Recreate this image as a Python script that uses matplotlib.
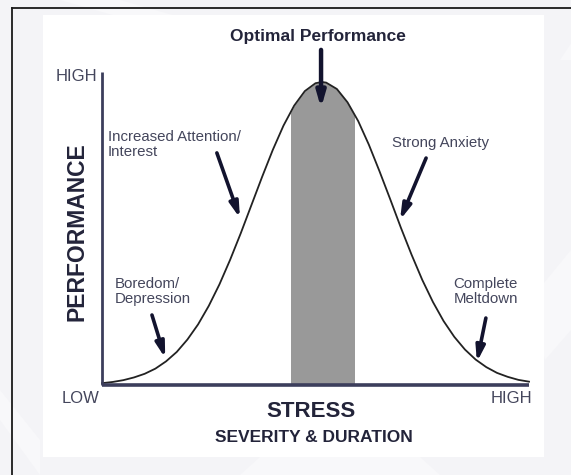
import matplotlib
matplotlib.use("Agg")
import matplotlib.pyplot as plt
from matplotlib.patches import Rectangle, Polygon
from matplotlib.lines import Line2D

# stress level (0 = LOW, 10 = HIGH) and performance (0 = LOW, 10 = peak)
stress = [0, 0.25, 0.5, 0.75, 1.0, 1.25, 1.5, 1.75, 2.0, 2.25, 2.5, 2.75, 3.0, 3.25,
          3.5, 3.75, 4.0, 4.25, 4.5, 4.75, 5.0, 5.15, 5.25, 5.5, 5.75, 6.0, 6.25, 6.5,
          6.75, 7.0, 7.25, 7.5, 7.75, 8.0, 8.25, 8.5, 8.75, 9.0, 9.25, 9.5, 9.75, 10.0]
performance = [0.06, 0.10, 0.16, 0.25, 0.37, 0.54, 0.78, 1.09, 1.50, 2.00, 2.61, 3.32,
               4.13, 5.01, 5.94, 6.87, 7.76, 8.56, 9.22, 9.70, 9.96, 10.0, 9.98, 9.77,
               9.33, 8.71, 7.93, 7.05, 6.13, 5.19, 4.30, 3.47, 2.74, 2.11, 1.59, 1.17,
               0.84, 0.59, 0.40, 0.27, 0.17, 0.11]

optimal_zone = [4.43, 5.90]

title = "Optimal Performance"
x_label = "STRESS"
x_sublabel = "SEVERITY & DURATION"
y_label = "PERFORMANCE"
low_label = "LOW"
high_label = "HIGH"
stage_labels = ["Boredom/\nDepression", "Increased Attention/\nInterest",
                "Strong Anxiety", "Complete\nMeltdown"]

W, H = 571, 475
plt.rcParams["font.family"] = ["Liberation Sans", "DejaVu Sans"]

fig = plt.figure(figsize=(W / 100, H / 100), dpi=100, facecolor="#f4f4f7")


def fx(px):
    return px / W


def fy(py):
    return 1 - py / H


# faint background shapes
for pts in [[(60, 0), (120, 0), (330, 60), (270, 60)],
            [(600, 0), (860, 0), (820, 60), (560, 60)],
            [(0, 390), (40, 440), (40, 475), (0, 420)],
            [(530, 300), (571, 250), (571, 330), (545, 360)],
            [(260, 457), (420, 457), (440, 475), (240, 475)]]:
    fig.patches.append(Polygon([(fx(x), fy(y)) for x, y in pts], closed=True,
                               transform=fig.transFigure, facecolor="#f8f8fa",
                               edgecolor="none", zorder=-3))

# white panel and frame
fig.patches.append(Rectangle((fx(43), fy(457)), fx(544) - fx(43), fy(15) - fy(457),
                             transform=fig.transFigure, facecolor="white",
                             edgecolor="none", zorder=-2))
fig.lines.append(Line2D([fx(12), 1], [fy(8), fy(8)], transform=fig.transFigure,
                        color="#1a1a1a", lw=1.3))
fig.lines.append(Line2D([fx(12), fx(12)], [0, fy(8)], transform=fig.transFigure,
                        color="#1a1a1a", lw=1.3))

# axes: x 0..10 -> px 102..529, y 0..10 -> px 385..82
ax = fig.add_axes([fx(102), fy(385), fx(529) - fx(102), fy(82) - fy(385)])
ax.set_xlim(0, 10)
ax.set_ylim(0, 10)
ax.axis("off")
ax.set_facecolor("none")

axis_c = "#3c3e5c"
text_c = "#44465c"
bold_c = "#23243a"
arrow_c = "#12132e"

# grey optimal zone under the curve
band = ax.fill_between(stress, performance, 0, color="#999999", lw=0, zorder=1)
band.set_clip_path(Rectangle((optimal_zone[0], 0), optimal_zone[1] - optimal_zone[0], 11,
                             transform=ax.transData))

ax.plot(stress, performance, color="#222222", lw=1.3, zorder=3, clip_on=False)

# axis lines
ax.plot([0, 0], [0, 10.33], color=axis_c, lw=2.0, clip_on=False, zorder=4,
        solid_capstyle="butt")
ax.plot([0, 10], [0, 0], color=axis_c, lw=2.6, clip_on=False, zorder=4,
        solid_capstyle="butt")

# labels
ax.text(5.06, 11.49, title, ha="center", va="center", fontsize=12.5, fontweight="bold",
        color=bold_c)
ax.text(-0.12, 10.17, high_label, ha="right", va="center", fontsize=12, color=text_c)
ax.text(-0.05, -0.43, low_label, ha="right", va="center", fontsize=12, color=text_c)
ax.text(10.07, -0.43, high_label, ha="right", va="center", fontsize=12, color=text_c)
ax.text(4.89, -0.89, x_label, ha="center", va="center", fontsize=16, fontweight="bold",
        color=bold_c)
ax.text(4.96, -1.72, x_sublabel, ha="center", va="center", fontsize=12.5,
        fontweight="bold", color=bold_c)
ax.text(-0.585, 5.05, y_label, ha="center", va="center", rotation=90, fontsize=16.5,
        fontweight="bold", color=bold_c)

ax.text(0.30, 3.55, stage_labels[0], ha="left", va="top", fontsize=10.8, color=text_c,
        linespacing=1.05)
ax.text(0.14, 8.40, stage_labels[1], ha="left", va="top", fontsize=10.8, color=text_c,
        linespacing=1.05)
ax.text(7.92, 7.99, stage_labels[2], ha="center", va="center", fontsize=10.8, color=text_c)
ax.text(8.99, 3.55, stage_labels[3], ha="center", va="top", fontsize=10.8, color=text_c,
        linespacing=1.05, multialignment="center")

# arrows (start, tip)
arrows = [((5.13, 11.06), (5.13, 9.14), 3.2),
          ((1.17, 2.31), (1.48, 0.89), 2.6),
          ((2.69, 7.66), (3.23, 5.51), 2.6),
          ((7.59, 7.49), (6.98, 5.45), 2.6),
          ((8.99, 2.21), (8.78, 0.76), 2.6)]
for start, tip, lw in arrows:
    ax.annotate("", xy=tip, xytext=start, annotation_clip=False,
                arrowprops=dict(arrowstyle="-|>,head_length=0.9,head_width=0.26",
                                lw=lw, color=arrow_c, shrinkA=0, shrinkB=0,
                                mutation_scale=10), zorder=5)

fig.savefig("out.png", dpi=100, facecolor=fig.get_facecolor())
